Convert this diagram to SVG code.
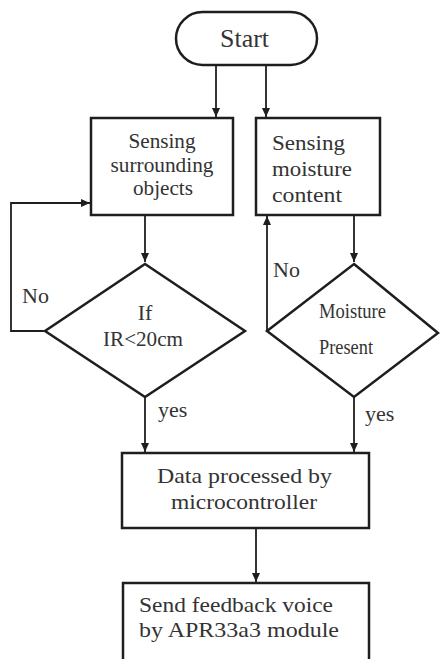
<svg xmlns="http://www.w3.org/2000/svg" width="440" height="659" viewBox="0 0 440 659">
<defs>
<style>
.shape{fill:#fff;stroke:#1e1e1e;stroke-width:2.5}
.conn{fill:none;stroke:#1e1e1e;stroke-width:1.8}
text{font-family:"Liberation Serif","Times New Roman",serif;fill:#333}
.t{font-size:22px}
.s{font-size:20px}
</style>
<marker id="ah" markerWidth="10" markerHeight="10" refX="9" refY="4" orient="auto" markerUnits="userSpaceOnUse">
<path d="M0,0 L9,4 L0,8 Z" fill="#1e1e1e"/>
</marker>
</defs>
<rect width="440" height="659" fill="#fff"/>
<g id="connectors">
<path class="conn" d="M216,65 V117" marker-end="url(#ah)"/>
<path class="conn" d="M266,65 V117" marker-end="url(#ah)"/>
<path class="conn" d="M145,215 V262" marker-end="url(#ah)"/>
<path class="conn" d="M354,215 V262" marker-end="url(#ah)"/>
<path class="conn" d="M45,331 H11 V203 H90" marker-end="url(#ah)"/>
<path class="conn" d="M267,331 V216" marker-end="url(#ah)"/>
<path class="conn" d="M145,397 V452" marker-end="url(#ah)"/>
<path class="conn" d="M354,397 V452" marker-end="url(#ah)"/>
<path class="conn" d="M256,528 V582" marker-end="url(#ah)"/>
<text class="t" x="22" y="303">No</text>
<text class="t" x="273" y="277">No</text>
<text class="t" x="158" y="417">yes</text>
<text class="t" x="365" y="421">yes</text>
</g>
<g id="start">
<rect class="shape" x="176" y="12" width="141" height="53" rx="26.5"/>
<text x="244.5" y="47" font-size="25" text-anchor="middle" textLength="49" lengthAdjust="spacingAndGlyphs">Start</text>
</g>
<g id="sense-objects">
<rect class="shape" x="91" y="118" width="142" height="97"/>
<text class="t" x="162" y="148" text-anchor="middle" textLength="67" lengthAdjust="spacingAndGlyphs">Sensing</text>
<text class="t" x="162" y="172" text-anchor="middle" textLength="103" lengthAdjust="spacingAndGlyphs">surrounding</text>
<text class="t" x="163" y="195" text-anchor="middle" textLength="60" lengthAdjust="spacingAndGlyphs">objects</text>
</g>
<g id="sense-moisture">
<rect class="shape" x="256" y="118" width="124" height="97"/>
<text class="t" x="272" y="150" textLength="73" lengthAdjust="spacingAndGlyphs">Sensing</text>
<text class="t" x="272" y="176" textLength="80" lengthAdjust="spacingAndGlyphs">moisture</text>
<text class="t" x="272" y="202" textLength="70" lengthAdjust="spacingAndGlyphs">content</text>
</g>
<g id="if-ir">
<polygon class="shape" points="145,264 245,331 145,397 45,331"/>
<text class="t" x="145" y="320" text-anchor="middle">If</text>
<text class="t" x="143" y="346" text-anchor="middle" textLength="80" lengthAdjust="spacingAndGlyphs">IR&lt;20cm</text>
</g>
<g id="moisture-present">
<polygon class="shape" points="354,264 438,333 354,397 267,331"/>
<text class="s" x="319" y="318" textLength="67" lengthAdjust="spacingAndGlyphs">Moisture</text>
<text class="s" x="319" y="354" textLength="54" lengthAdjust="spacingAndGlyphs">Present</text>
</g>
<g id="process">
<rect class="shape" x="122" y="453" width="247" height="75"/>
<text class="t" x="244.5" y="483" text-anchor="middle" textLength="175" lengthAdjust="spacingAndGlyphs">Data processed by</text>
<text class="t" x="244" y="509" text-anchor="middle" textLength="146" lengthAdjust="spacingAndGlyphs">microcontroller</text>
</g>
<g id="feedback">
<rect class="shape" x="123" y="583" width="246" height="90"/>
<text class="t" x="139" y="612" textLength="194" lengthAdjust="spacingAndGlyphs">Send feedback voice</text>
<text class="t" x="139" y="637" textLength="200" lengthAdjust="spacingAndGlyphs">by APR33a3 module</text>
</g>
</svg>
